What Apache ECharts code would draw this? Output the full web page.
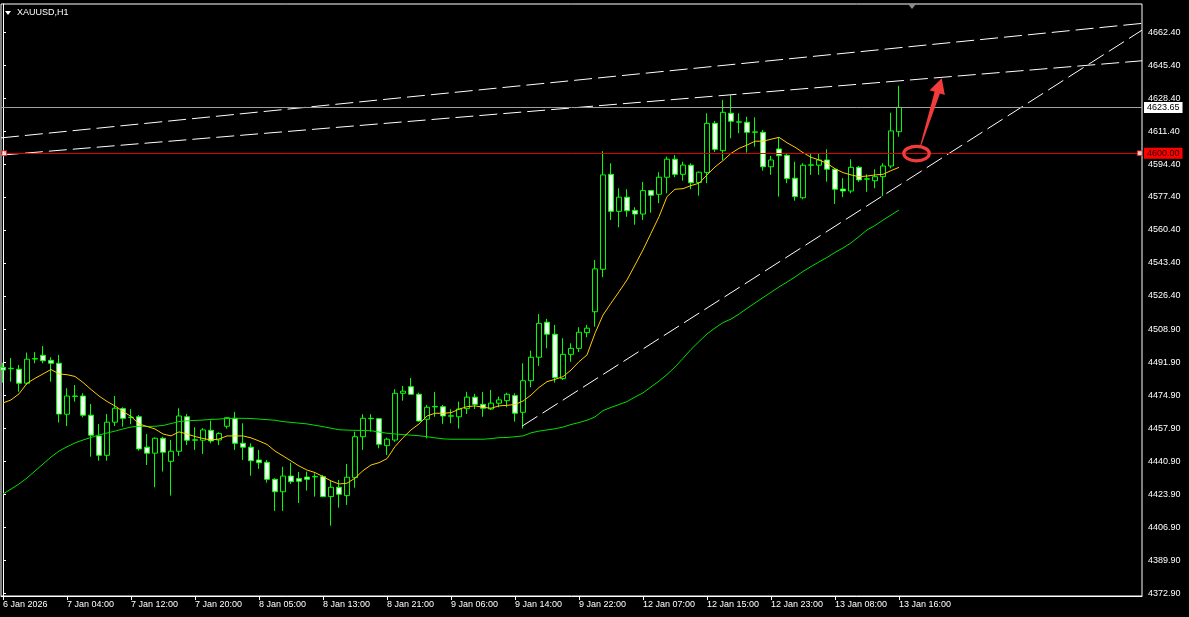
<!DOCTYPE html>
<html><head><meta charset="utf-8">
<script src="https://cdn.jsdelivr.net/npm/echarts@6/dist/echarts.min.js"></script>
<style>html,body{margin:0;padding:0;background:#000;}#c{width:1189px;height:617px;}</style>
</head><body><div id="c"></div>
<script>
const symbolName = 'XAUUSD,H1';
const timeLabels = ['6 Jan 2026','7 Jan 04:00','7 Jan 12:00','7 Jan 20:00','8 Jan 05:00','8 Jan 13:00','8 Jan 21:00','9 Jan 06:00','9 Jan 14:00','9 Jan 22:00','12 Jan 07:00','12 Jan 15:00','12 Jan 23:00','13 Jan 08:00','13 Jan 16:00'];
const barsPerLabel = 8;
const yTicks = [4372.9,4389.9,4406.9,4423.9,4440.9,4457.9,4474.9,4491.9,4508.9,4526.4,4543.4,4560.4,4577.4,4594.4,4611.4,4628.4,4645.4,4662.4];

const openP = [
4489.5,4488.8,4488.5,4481.3,4493.8,4495.7,4493.1,4491.6,4465.3,4474.5,
4474.7,4464.8,4454.1,4444.1,4461.2,4468.2,4463.6,4464.0,4448.3,4445.2,
4452.9,4441.0,4446.2,4464.0,4451.9,4451.9,4457.0,4452.0,4459.1,4463.2,
4450.3,4448.3,4441.7,4440.5,4431.7,4425.3,4433.4,4432.1,4432.9,4433.0,
4433.1,4422.8,4427.6,4423.3,4432.6,4453.7,4463.0,4463.0,4449.1,4452.0,
4476.1,4479.5,4475.6,4462.7,4469.1,4469.2,4464.3,4464.0,4468.2,4474.1,
4470.4,4468.0,4471.0,4472.3,4474.9,4466.3,4482.6,4494.7,4512.8,4506.6,
4483.7,4496.2,4499.3,4507.4,4518.2,4540.1,4589.1,4570.0,4577.3,4570.5,
4568.6,4580.7,4578.8,4587.6,4596.9,4589.1,4593.8,4584.9,4590.0,4615.4,
4601.3,4620.6,4616.0,4616.0,4610.8,4610.8,4593.0,4602.2,4598.9,4587.1,
4577.0,4593.8,4593.8,4596.5,4591.7,4581.5,4580.5,4592.7,4586.6,4585.8,4587.9,4593.4,4611.1];
const closeP = [
4488.1,4489.0,4481.3,4493.7,4494.0,4492.9,4491.6,4465.4,4474.7,4474.7,
4464.8,4454.5,4444.1,4461.2,4468.4,4463.2,4463.8,4447.4,4445.2,4452.9,
4445.7,4446.2,4464.4,4451.9,4452.1,4457.2,4451.5,4455.3,4463.5,4450.3,
4448.3,4441.3,4440.3,4431.7,4425.3,4433.4,4430.5,4430.7,4431.7,4433.2,
4422.8,4427.6,4424.0,4432.8,4453.7,4463.2,4463.2,4449.8,4452.4,4476.1,
4477.2,4475.6,4461.8,4468.9,4469.3,4464.4,4464.5,4468.0,4474.1,4470.4,
4468.4,4471.0,4472.7,4475.6,4465.8,4482.6,4494.7,4512.2,4506.6,4484.2,
4496.2,4499.3,4507.6,4509.7,4540.3,4588.8,4570.0,4577.3,4570.3,4568.6,
4580.7,4578.3,4587.6,4596.9,4589.1,4593.9,4584.8,4590.2,4615.4,4602.0,
4621.1,4616.5,4616.2,4610.8,4611.0,4593.0,4596.5,4598.7,4586.9,4577.6,
4593.8,4594.0,4596.5,4591.7,4581.4,4580.5,4592.7,4586.2,4586.8,4587.9,4593.4,4611.5,4623.65];
const highP = [
4491.9,4494.3,4490.7,4497.1,4497.4,4500.5,4494.7,4495.9,4478.7,4480.4,
4476.1,4470.6,4460.3,4465.4,4474.7,4468.9,4467.9,4464.9,4455.1,4453.4,
4453.7,4452.0,4468.4,4465.4,4458.6,4458.1,4462.0,4456.0,4463.7,4466.5,
4460.6,4450.3,4446.9,4441.7,4432.3,4438.2,4440.3,4435.5,4435.7,4434.8,
4434.0,4431.0,4431.4,4439.6,4456.3,4465.3,4465.3,4463.2,4453.2,4478.2,
4479.9,4484.0,4476.4,4470.1,4476.8,4470.1,4467.9,4471.8,4476.9,4475.8,
4476.8,4477.8,4474.4,4476.4,4476.1,4491.6,4498.1,4517.0,4514.5,4511.4,
4504.5,4501.9,4510.2,4511.4,4544.9,4601.1,4594.8,4581.9,4581.4,4572.1,
4585.2,4581.0,4590.2,4598.2,4599.1,4595.6,4594.8,4590.5,4620.6,4616.6,
4627.5,4630.0,4620.6,4618.8,4618.5,4612.0,4598.6,4608.2,4599.6,4595.6,
4594.8,4599.6,4599.6,4602.0,4592.2,4587.1,4596.9,4593.4,4589.1,4591.7,4594.8,4620.9,4634.8];
const lowP = [
4481.6,4482.1,4476.9,4480.4,4491.6,4491.6,4482.1,4461.0,4459.2,4471.8,
4463.7,4443.4,4441.3,4441.3,4459.2,4458.9,4460.1,4446.5,4439.1,4427.6,
4435.7,4423.3,4443.8,4449.4,4446.9,4444.8,4450.3,4449.4,4457.9,4446.9,
4441.7,4433.6,4437.1,4430.0,4415.4,4415.4,4429.3,4419.5,4425.9,4422.8,
4422.5,4407.8,4417.1,4418.5,4427.4,4446.9,4456.3,4447.7,4444.3,4451.1,
4472.3,4475.6,4461.5,4452.9,4464.0,4460.3,4460.6,4457.9,4465.4,4468.0,
4464.0,4467.5,4468.9,4468.9,4461.5,4457.9,4479.2,4490.2,4499.3,4481.6,
4483.0,4492.4,4497.4,4505.0,4510.5,4536.0,4565.5,4561.8,4567.2,4563.1,
4565.5,4569.3,4574.2,4579.3,4587.6,4585.8,4581.4,4578.1,4584.5,4600.6,
4596.5,4607.7,4610.3,4600.3,4603.4,4591.0,4588.8,4577.6,4584.5,4575.5,
4576.2,4588.8,4588.8,4585.3,4573.8,4577.3,4579.3,4585.2,4580.1,4581.9,4577.9,4592.2,4608.5];

const maFast = [
4471.1,4472.7,4475.8,4481.3,4483.8,4486.1,4488.4,4486.1,4485.7,4484.8,
4481.7,4478.1,4474.7,4471.9,4469.6,4466.7,4464.2,4460.3,4459.0,4457.7,
4455.1,4454.1,4456.2,4455.1,4453.8,4452.8,4452.0,4452.5,4454.1,4454.1,
4454.1,4453.1,4451.5,4449.7,4446.3,4443.8,4441.2,4438.6,4436.5,4435.2,
4433.1,4430.9,4429.3,4429.7,4432.3,4436.2,4439.1,4440.3,4442.4,4448.6,
4453.2,4457.2,4460.3,4464.4,4465.8,4465.8,4466.1,4467.9,4469.2,4469.6,
4468.9,4468.4,4469.6,4469.9,4470.3,4472.1,4475.2,4479.1,4482.1,4483.3,
4484.7,4488.1,4492.4,4495.9,4507.1,4516.5,4522.6,4528.5,4534.6,4542.3,
4550.1,4558.7,4567.2,4577.6,4581.4,4581.7,4583.3,4584.5,4588.8,4592.9,
4596.2,4599.9,4602.5,4604.2,4606.2,4606.2,4607.2,4608.2,4605.4,4603.1,
4600.3,4597.9,4596.5,4594.8,4592.0,4590.0,4588.8,4587.9,4588.2,4588.8,4589.1,4591.0,4592.7];
const maSlow = [
4424.1,4426.7,4429.3,4432.4,4436.0,4439.6,4443.2,4446.3,4448.5,4450.5,
4452.0,4453.3,4454.6,4455.6,4456.6,4457.7,4458.7,4459.1,4459.0,4459.1,
4459.5,4460.5,4461.5,4461.9,4462.1,4462.3,4462.6,4462.8,4463.1,4463.2,
4463.2,4463.1,4462.8,4462.5,4462.2,4461.5,4461.1,4460.7,4460.3,4459.6,
4458.9,4458.1,4457.3,4457.1,4457.0,4456.9,4456.8,4456.1,4455.5,4455.1,
4454.8,4454.5,4454.2,4453.7,4453.1,4452.6,4452.4,4452.4,4452.4,4452.4,
4452.4,4452.7,4453.2,4453.3,4453.7,4454.1,4455.7,4456.6,4457.2,4457.8,
4458.7,4460.0,4461.0,4462.2,4463.9,4467.2,4468.8,4470.3,4471.8,4474.2,
4476.3,4479.4,4482.4,4485.8,4489.7,4494.1,4498.7,4502.8,4506.7,4509.8,
4512.6,4514.4,4517.0,4519.9,4522.7,4525.5,4528.2,4531.0,4533.5,4536.1,
4539.0,4541.5,4543.9,4546.2,4548.8,4551.1,4553.7,4557.0,4560.4,4562.7,4565.5,4568.1,4570.7];

const bidPrice = 4623.65;
const levelPrice = 4600.00;
const trendLineA = [[-0.25, 4607.9], [142.375, 4667.0]];
const trendLineB = [[-0.25, 4599.0], [142.375, 4647.7]];
const trendLineC = [[64.91, 4459.2], [142.375, 4663.5]];
const levelHandles = [[0.15, 4600.0], [142.09, 4600.0]];
const ellipseAt = [114.19, 4599.8];
const arrowFrom = [114.69, 4603.7];
const arrowTo = [117.34, 4638.65];

const FONT = 'Liberation Sans';
const xTickBars = timeLabels.map((_, k) => k * barsPerLabel);
const candles = openP.map((o, i) => [i, o, closeP[i], lowP[i], highP[i]]);
const idx = a => a.map((v, i) => [i, v]);
const dash = {color: '#ffffff', width: 1, type: [18, 6]};

const chart = echarts.init(document.getElementById('c'), null, {renderer: 'canvas'});
chart.setOption({
  backgroundColor: '#000000',
  animation: false,
  grid: {left: 1, right: 47, top: 4, bottom: 21, show: true, borderColor: '#ffffff', borderWidth: 1},
  xAxis: {
    type: 'value', min: -0.25, max: 142.375,
    axisLine: {show: true, lineStyle: {color: '#ffffff', width: 1}},
    axisTick: {show: true, customValues: xTickBars, length: 4, lineStyle: {color: '#ffffff'}},
    axisLabel: {customValues: xTickBars, formatter: v => timeLabels[Math.round(v / barsPerLabel)] || '',
      color: '#ffffff', fontFamily: FONT, fontSize: 9, align: 'left', margin: 4},
    splitLine: {show: false}
  },
  yAxis: {
    type: 'value', position: 'right', min: 4371.5, max: 4677.0,
    axisLine: {show: true, lineStyle: {color: '#ffffff', width: 1}},
    axisTick: {show: true, customValues: yTicks, length: 3, lineStyle: {color: '#ffffff'}},
    axisLabel: {customValues: yTicks, formatter: v => v.toFixed(2), color: '#ffffff', fontFamily: FONT, fontSize: 9, margin: 6},
    splitLine: {show: false}
  },
  series: [
    {
      type: 'candlestick', name: symbolName, data: candles, encode: {x: 0, y: [1, 2, 3, 4]},
      barWidth: 5, z: 2,
      itemStyle: {color: '#000000', color0: '#ffffff', borderColor: '#00ff00', borderColor0: '#00ff00', borderWidth: 1},
      markLine: {
        silent: true, symbol: ['none', 'none'], animation: false,
        data: [
          {yAxis: bidPrice, lineStyle: {color: '#a0a0a0', width: 1, type: 'solid'},
           label: {show: true, position: 'end', distance: 2, formatter: bidPrice.toFixed(2), color: '#000000',
                   backgroundColor: '#ffffff', padding: [1, 3, 1, 3], fontFamily: FONT, fontSize: 9}},
          {yAxis: levelPrice, lineStyle: {color: '#e00000', width: 1, type: 'solid'},
           label: {show: true, position: 'end', distance: 2, formatter: levelPrice.toFixed(2), color: '#200000',
                   backgroundColor: '#ff0000', padding: [1, 3, 1, 3], fontFamily: FONT, fontSize: 9}}
        ]
      }
    },
    {type: 'line', data: idx(maSlow), showSymbol: false, z: 3, lineStyle: {color: '#00e000', width: 1}},
    {type: 'line', data: idx(maFast), showSymbol: false, z: 3, lineStyle: {color: '#ffcc00', width: 1}},
    {type: 'line', data: trendLineA, showSymbol: false, z: 4, lineStyle: dash},
    {type: 'line', data: trendLineB, showSymbol: false, z: 4, lineStyle: dash},
    {type: 'line', data: trendLineC, showSymbol: false, z: 4, lineStyle: dash},
    {type: 'scatter', data: levelHandles, symbol: 'rect', symbolSize: 5, z: 5,
     itemStyle: {color: '#ffffff', borderColor: '#e00000', borderWidth: 1}}
  ]
});

function px(p) { return chart.convertToPixel({xAxisIndex: 0, yAxisIndex: 0}, p); }
const ec = px(ellipseAt);
const a0 = px(arrowFrom), a1 = px(arrowTo);
const dx = a1[0] - a0[0], dy = a1[1] - a0[1], L = Math.hypot(dx, dy);
const ux = dx / L, uy = dy / L, nx = -uy, ny = ux;
const headLen = 15, headHalf = 8, shaftHalf = 2.8;
const bx = a1[0] - ux * headLen, by = a1[1] - uy * headLen;
const arrowPts = [
  [a0[0] + nx * 0.5, a0[1] + ny * 0.5],
  [bx + nx * shaftHalf, by + ny * shaftHalf],
  [bx + nx * headHalf, by + ny * headHalf],
  [a1[0], a1[1]],
  [bx - nx * headHalf, by - ny * headHalf],
  [bx - nx * shaftHalf, by - ny * shaftHalf],
  [a0[0] - nx * 0.5, a0[1] - ny * 0.5]
];
chart.setOption({
  graphic: [
    {type: 'polygon', z: 100, shape: {points: [[5, 11], [11, 11], [8, 15]]}, style: {fill: '#ffffff'}},
    {type: 'text', z: 100, x: 17, y: 8, style: {text: symbolName, fill: '#ffffff', font: '9px "Liberation Sans"'}},
    {type: 'polygon', z: 100, shape: {points: [[908, 4], [916, 4], [912, 9]]}, style: {fill: '#8a8a8a'}},
    {type: 'ellipse', z: 100, shape: {cx: ec[0], cy: ec[1], rx: 12.8, ry: 7.2}, style: {fill: 'none', stroke: '#f23b3b', lineWidth: 3.2}},
    {type: 'polygon', z: 100, shape: {points: arrowPts}, style: {fill: '#f23b3b'}}
  ]
});
</script>
</body></html>
